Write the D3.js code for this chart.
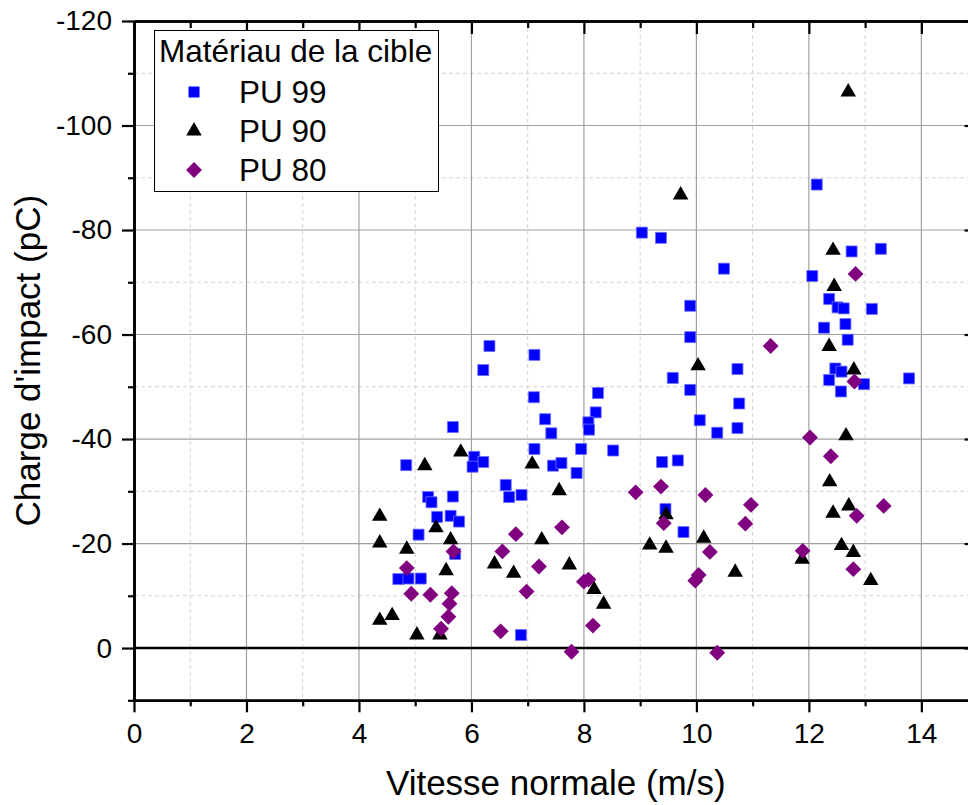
<!DOCTYPE html>
<html>
<head>
<meta charset="utf-8">
<script src="https://cdn.jsdelivr.net/npm/d3@7"></script>
<style>
  html, body { margin: 0; padding: 0; background: #fff; }
  svg { display: block; font-family: "Liberation Sans", Arial, sans-serif; }
</style>
</head>
<body>
<svg id="chart" width="968" height="805"></svg>
<script>
// Impact charge vs normal velocity, three target materials
const pu99 = [
  [4.84, -35.0], [5.67, -42.3], [6.05, -36.6], [6.21, -35.6], [6.02, -34.7],
  [5.23, -28.9], [5.29, -27.9], [5.67, -29.0], [5.39, -25.1], [5.63, -25.3],
  [5.78, -24.2], [5.06, -21.7], [5.71, -18.0], [4.70, -13.2], [4.88, -13.3],
  [5.10, -13.3], [6.61, -31.2], [6.67, -28.9], [6.89, -29.3], [7.12, -38.1],
  [6.88, -2.5], [6.32, -57.8], [6.21, -53.2], [7.12, -56.1], [7.11, -48.0],
  [8.25, -48.8], [8.21, -45.1], [7.31, -43.8], [8.08, -43.2], [8.09, -41.8],
  [7.42, -41.1], [7.95, -38.1], [8.52, -37.8], [7.45, -34.9], [7.60, -35.4],
  [7.87, -33.5], [10.06, -43.6], [10.37, -41.2], [9.39, -35.6], [9.67, -35.9],
  [9.45, -26.6], [9.77, -22.2], [9.03, -79.5], [9.37, -78.5], [10.49, -72.6],
  [9.89, -65.5], [9.89, -59.5], [9.58, -51.7], [9.89, -49.4], [10.73, -53.4],
  [10.76, -46.8], [10.73, -42.1], [12.14, -88.7], [12.76, -75.9], [13.28, -76.4],
  [12.06, -71.2], [12.36, -66.8], [12.51, -65.2], [12.62, -65.0], [13.12, -64.9],
  [12.27, -61.3], [12.65, -62.0], [12.69, -59.0], [12.47, -53.5], [12.58, -52.9],
  [12.36, -51.3], [12.98, -50.5], [12.57, -49.1], [13.78, -51.6]
];
const pu90 = [
  [5.81, -37.5], [5.17, -34.9], [7.08, -35.2], [4.37, -25.2], [5.37, -23.0],
  [4.37, -20.1], [4.85, -18.9], [5.63, -20.7], [5.55, -14.8], [6.41, -16.1],
  [6.75, -14.3], [4.37, -5.3], [4.59, -6.2], [5.03, -2.5], [5.44, -2.5],
  [7.56, -30.1], [7.25, -20.7], [7.74, -15.9], [8.18, -11.2], [8.35, -8.4],
  [9.46, -25.5], [9.17, -19.7], [9.46, -19.1], [10.13, -21.0], [10.69, -14.5],
  [12.66, -40.6], [12.37, -31.8], [12.71, -27.2], [12.43, -25.8], [12.58, -19.6],
  [12.79, -18.3], [11.88, -17.0], [13.10, -12.9], [9.72, -86.7], [10.03, -54.0],
  [12.70, -106.4], [12.43, -76.1], [12.45, -69.2], [12.36, -57.7], [12.80, -53.2]
];
const pu80 = [
  [5.68, -18.5], [4.85, -15.3], [4.93, -10.4], [5.27, -10.2], [5.65, -10.5],
  [5.61, -8.5], [5.59, -6.0], [5.46, -3.7], [6.79, -21.8], [6.55, -18.5],
  [6.98, -10.8], [6.52, -3.2], [7.20, -15.6], [7.61, -23.1], [8.00, -12.7],
  [8.08, -13.1], [8.16, -4.3], [7.78, 0.7], [8.92, -29.8], [9.37, -30.9],
  [9.42, -23.9], [10.16, -29.3], [10.24, -18.4], [9.98, -12.9], [10.04, -14.0],
  [10.37, 0.9], [10.97, -27.4], [10.87, -23.8], [11.32, -57.8], [12.02, -40.3],
  [12.39, -36.7], [12.85, -25.3], [11.89, -18.6], [12.79, -15.1], [13.33, -27.2],
  [12.83, -71.6], [12.81, -51.0]
];

const seriesNames = ["PU 99", "PU 90", "PU 80"];
const legendTitle = "Matériau de la cible";
const xTitle = "Vitesse normale (m/s)";
const yTitle = "Charge d'impact (pC)";

const xMajorTicks = [0, 2, 4, 6, 8, 10, 12, 14];
const xMinorTicks = [1, 3, 5, 7, 9, 11, 13, 15];
const yMajorTicks = [-120, -100, -80, -60, -40, -20, 0];
const yMinorTicks = [-110, -90, -70, -50, -30, -10, 10];

const svg = d3.select("#chart");
const plotL = 134, plotR = 977.6, plotT = 21, plotB = 700.3;

const x = d3.scaleLinear().domain([0, 15]).range([plotL, plotR]);
const y = d3.scaleLinear().domain([-120, 10]).range([plotT, plotB]);

// grid
const grid = svg.append("g");
grid.selectAll("line.xminor").data(xMinorTicks).join("line")
  .attr("x1", d => x(d)).attr("x2", d => x(d))
  .attr("y1", plotT).attr("y2", plotB)
  .attr("stroke", "#d4d4d4").attr("stroke-width", 1).attr("stroke-dasharray", "4,3");
grid.selectAll("line.yminor").data(yMinorTicks.filter(d => d < 10)).join("line")
  .attr("x1", plotL).attr("x2", plotR)
  .attr("y1", d => y(d)).attr("y2", d => y(d))
  .attr("stroke", "#d4d4d4").attr("stroke-width", 1).attr("stroke-dasharray", "4,3");
grid.selectAll("line.xmajor").data(xMajorTicks.filter(d => d > 0)).join("line")
  .attr("x1", d => x(d)).attr("x2", d => x(d))
  .attr("y1", plotT).attr("y2", plotB)
  .attr("stroke", "#a0a0a0").attr("stroke-width", 1.2);
grid.selectAll("line.ymajor").data(yMajorTicks.filter(d => d > -120 && d < 0)).join("line")
  .attr("x1", plotL).attr("x2", plotR)
  .attr("y1", d => y(d)).attr("y2", d => y(d))
  .attr("stroke", "#a0a0a0").attr("stroke-width", 1.2);

// zero line
svg.append("line")
  .attr("x1", plotL).attr("x2", plotR)
  .attr("y1", y(0)).attr("y2", y(0))
  .attr("stroke", "#000").attr("stroke-width", 2.6);

// axes
function styleAxis(g) {
  g.selectAll("path.domain").attr("stroke", "#000").attr("stroke-width", 2.6);
  g.selectAll(".tick line").attr("stroke", "#000").attr("stroke-width", 2.2);
  g.selectAll(".tick text").attr("fill", "#000")
    .style("font-size", "28px").style("font-family", "'Liberation Sans', Arial, sans-serif");
}
const fmt = d => String(d);

svg.append("g").attr("transform", `translate(0,${plotB})`)
  .call(d3.axisBottom(x).tickValues(xMinorTicks).tickSize(6).tickSizeOuter(0).tickFormat(""))
  .call(styleAxis);
svg.append("g").attr("transform", `translate(0,${plotB})`)
  .call(d3.axisBottom(x).tickValues(xMajorTicks).tickSize(12).tickSizeOuter(0).tickPadding(11).tickFormat(fmt))
  .call(styleAxis);

svg.append("g").attr("transform", `translate(${plotL},0)`)
  .call(d3.axisLeft(y).tickValues(yMinorTicks).tickSize(6).tickSizeOuter(0).tickFormat(""))
  .call(styleAxis);
svg.append("g").attr("transform", `translate(${plotL},0)`)
  .call(d3.axisLeft(y).tickValues(yMajorTicks).tickSize(12).tickSizeOuter(0).tickPadding(10).tickFormat(fmt))
  .call(styleAxis);

svg.append("g").attr("transform", `translate(0,${plotT})`)
  .call(d3.axisTop(x).tickValues(xMinorTicks).tickSize(-7).tickSizeOuter(0).tickFormat(""))
  .call(styleAxis);
svg.append("g").attr("transform", `translate(0,${plotT})`)
  .call(d3.axisTop(x).tickValues(xMajorTicks).tickSize(-13).tickSizeOuter(0).tickFormat(""))
  .call(styleAxis);

svg.append("g").attr("transform", `translate(${plotR},0)`)
  .call(d3.axisRight(y).tickValues(yMinorTicks).tickSize(-7).tickSizeOuter(0).tickFormat(""))
  .call(styleAxis);
svg.append("g").attr("transform", `translate(${plotR},0)`)
  .call(d3.axisRight(y).tickValues(yMajorTicks).tickSize(-13).tickSizeOuter(0).tickFormat(""))
  .call(styleAxis);

// axis titles
svg.append("text")
  .attr("x", (plotL + plotR) / 2).attr("y", 795)
  .attr("text-anchor", "middle")
  .style("font-size", "35px").attr("fill", "#000")
  .text(xTitle);
svg.append("text")
  .attr("transform", `translate(40,${(plotT + plotB) / 2}) rotate(-90)`)
  .attr("text-anchor", "middle")
  .style("font-size", "35px").attr("fill", "#000")
  .text(yTitle);

// markers
const sq = d3.symbol().type(d3.symbolSquare).size(121);
const tri = d3.symbol().type(d3.symbolTriangle).size(104);
const dia = d3.symbol().type(d3.symbolSquare).size(126);

const marks = svg.append("g");
marks.selectAll("path.s").data(pu99).join("path")
  .attr("d", sq)
  .attr("transform", d => `translate(${x(d[0])},${y(d[1])})`)
  .attr("fill", "#0000ff").attr("stroke", "#6f6fff").attr("stroke-width", 0.8);
marks.selectAll("path.t").data(pu90).join("path")
  .attr("d", tri)
  .attr("transform", d => `translate(${x(d[0])},${y(d[1])})`)
  .attr("fill", "#000");
marks.selectAll("path.d").data(pu80).join("path")
  .attr("d", dia)
  .attr("transform", d => `translate(${x(d[0])},${y(d[1])}) rotate(45)`)
  .attr("fill", "#800080");

// legend
const lg = svg.append("g");
lg.append("rect")
  .attr("x", 154.5).attr("y", 30.5).attr("width", 284).attr("height", 161)
  .attr("fill", "#fff").attr("stroke", "#000").attr("stroke-width", 1);
lg.append("text").attr("x", 159).attr("y", 62)
  .style("font-size", "31.5px").attr("fill", "#000").text(legendTitle);
const legendItems = [
  { name: seriesNames[0], sym: sq, fill: "#0000ff", rot: 0, cy: 92 },
  { name: seriesNames[1], sym: tri, fill: "#000", rot: 0, cy: 131 },
  { name: seriesNames[2], sym: dia, fill: "#800080", rot: 45, cy: 170 }
];
legendItems.forEach(it => {
  lg.append("path").attr("d", it.sym)
    .attr("transform", `translate(194,${it.cy}) rotate(${it.rot})`)
    .attr("fill", it.fill);
  lg.append("text").attr("x", 239).attr("y", it.cy + 11)
    .style("font-size", "31.5px").attr("fill", "#000").text(it.name);
});
</script>
</body>
</html>
